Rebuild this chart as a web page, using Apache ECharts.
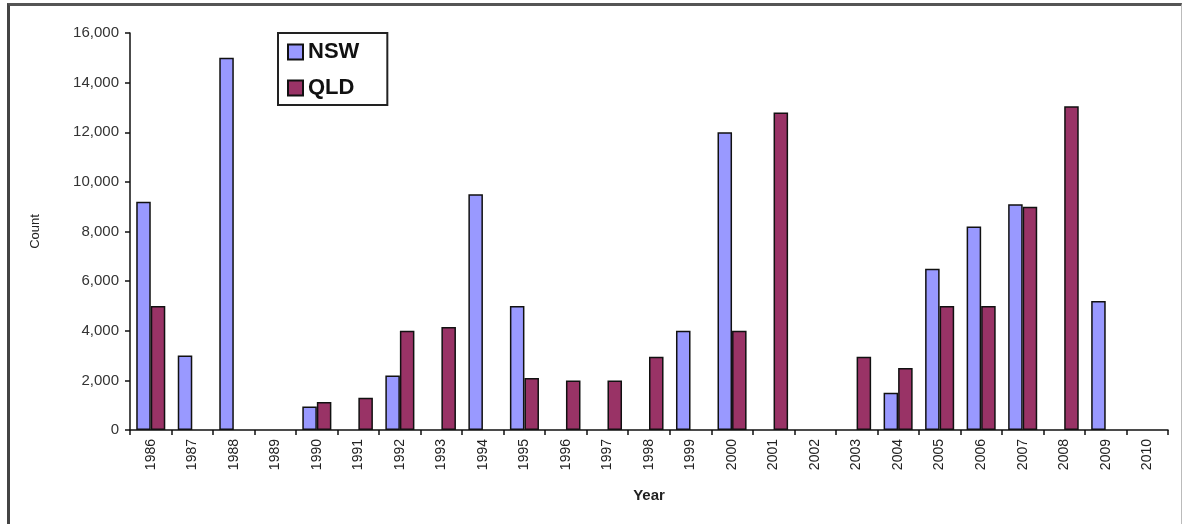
<!DOCTYPE html>
<html>
<head>
<meta charset="utf-8">
<title>NSW / QLD count by year</title>
<script src="https://cdn.jsdelivr.net/npm/echarts@6/dist/echarts.min.js"></script>
<style>
  html, body { margin: 0; padding: 0; background: #fff; }
  #frame {
    position: absolute; left: 7px; top: 3px; width: 1175px; height: 540px;
    border-top: 3px solid #555; border-left: 3px solid #444; border-right: 1px solid #bbb;
    box-sizing: border-box;
  }
  #chart { position: absolute; left: 0; top: 0; width: 1186px; height: 524px; }
</style>
</head>
<body>
<div id="frame"></div>
<div id="chart"></div>
<script>
// categories
const years = ["1986", "1987", "1988", "1989", "1990", "1991", "1992", "1993", "1994", "1995",
  "1996", "1997", "1998", "1999", "2000", "2001", "2002", "2003", "2004", "2005",
  "2006", "2007", "2008", "2009", "2010"];

// series values (null = no bar)
const nswValues = [9200, 3000, 15000, null, 950, null, 2200, null, 9500, 5000,
  null, null, null, 4000, 12000, null, null, null, 1500, 6500,
  8200, 9100, null, 5200, null];
const qldValues = [5000, null, null, null, 1130, 1300, 4000, 4150, null, 2100,
  2000, 2000, 2950, null, 4000, 12800, null, 2950, 2500, 5000,
  5000, 9000, 13050, null, null];

// value-axis ticks
const yMin = 0;
const yMax = 16000;
const yStep = 2000;

const chart = echarts.init(document.getElementById("chart"));

const fmt = (v) => v.toLocaleString("en-US");

const option = {
  backgroundColor: "transparent",
  animation: false,
  textStyle: { fontFamily: "Liberation Sans, Arial, sans-serif" },
  legend: {
    left: 278,
    top: 33,
    orient: "vertical",
    itemWidth: 15,
    itemHeight: 15,
    itemGap: 14,
    padding: [8, 28, 6, 9],
    borderColor: "#222",
    borderWidth: 2,
    borderRadius: 0,
    backgroundColor: "#fff",
    icon: "rect",
    textStyle: { fontSize: 22, fontWeight: "bold", color: "#111", fontFamily: "Liberation Sans, Arial, sans-serif" },
    data: ["NSW", "QLD"]
  },
  grid: { left: 130, right: 18, top: 33, bottom: 94 },
  xAxis: {
    type: "category",
    data: years,
    name: "Year",
    nameLocation: "middle",
    nameGap: 58,
    nameTextStyle: { fontSize: 15, fontWeight: "bold", color: "#222" },
    axisLine: { lineStyle: { color: "#111", width: 1.5 } },
    axisTick: { show: true, alignWithLabel: false, length: 5, lineStyle: { color: "#111", width: 1.5 } },
    axisLabel: { rotate: 90, fontSize: 14, color: "#222", margin: 9, interval: 0 }
  },
  yAxis: {
    type: "value",
    min: yMin,
    max: yMax,
    interval: yStep,
    name: "Count",
    nameLocation: "middle",
    nameGap: 88,
    nameTextStyle: { fontSize: 13, color: "#222" },
    axisLine: { show: true, lineStyle: { color: "#111", width: 1.5 } },
    axisTick: { show: true, length: 5, lineStyle: { color: "#111", width: 1.5 } },
    axisLabel: { fontSize: 15, color: "#333", margin: 11, formatter: fmt },
    splitLine: { show: false }
  },
  series: [
    {
      name: "NSW",
      type: "bar",
      data: nswValues,
      barGap: "0%",
      barCategoryGap: "30%",
      itemStyle: { color: "#9999FF", borderColor: "#111", borderWidth: 1.5 }
    },
    {
      name: "QLD",
      type: "bar",
      data: qldValues,
      barGap: "0%",
      barCategoryGap: "30%",
      itemStyle: { color: "#993366", borderColor: "#111", borderWidth: 1.5 }
    }
  ]
};

chart.setOption(option);
window.addEventListener("resize", () => chart.resize());
</script>
</body>
</html>
